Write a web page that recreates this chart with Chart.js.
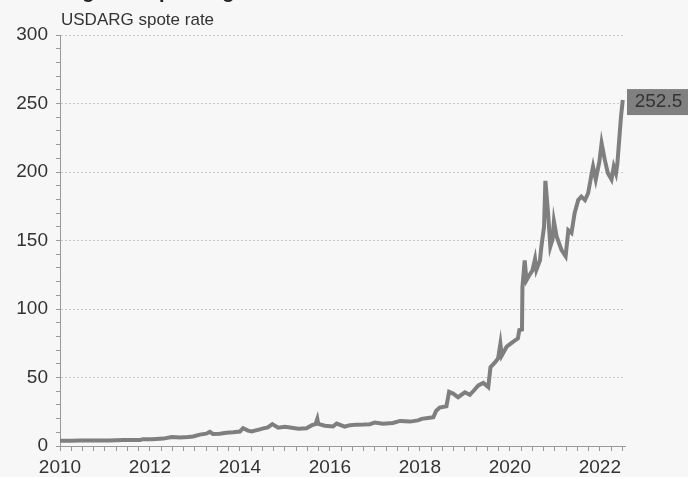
<!DOCTYPE html>
<html>
<head>
<meta charset="utf-8">
<script src="https://cdn.jsdelivr.net/npm/chart.js@4.4.1/dist/chart.umd.min.js"></script>
<style>
  body { margin: 0; background: #f7f7f7; }
  #wrap { position: relative; width: 688px; height: 477px; overflow: hidden; background: #f7f7f7; }
  #title { position: absolute; left: 60px; top: -20px; font: bold 20px "Liberation Sans", Arial, sans-serif; color: #222; white-space: nowrap; }
  #sub { position: absolute; left: 61px; top: 10px; font: 17px "Liberation Sans", Arial, sans-serif; color: #333; }
</style>
</head>
<body>
<div id="wrap">
  <div id="title">Argentine peso against the US dollar</div>
  <div id="sub">USDARG spote rate</div>
  <canvas id="chart" width="688" height="477"></canvas>
</div>
<script>
// decimal years
const dates = [2010.00, 2010.25, 2010.44, 2010.65, 2010.85, 2011.10, 2011.41, 2011.60, 2011.78, 2011.85,
  2012.05, 2012.30, 2012.48, 2012.67, 2012.85, 2012.96, 2013.11, 2013.25, 2013.33, 2013.40,
  2013.55, 2013.70, 2013.85, 2014.00, 2014.07, 2014.18, 2014.26, 2014.40, 2014.52, 2014.62,
  2014.72, 2014.85, 2015.00, 2015.15, 2015.30, 2015.48, 2015.60, 2015.68, 2015.72, 2015.74,
  2015.89, 2016.07, 2016.15, 2016.33, 2016.45, 2016.59, 2016.75, 2016.89, 2017.00, 2017.18,
  2017.40, 2017.56, 2017.78, 2017.96, 2018.04, 2018.22, 2018.30, 2018.36, 2018.44, 2018.59,
  2018.65, 2018.74, 2018.85, 2019.00, 2019.11, 2019.20, 2019.30, 2019.41, 2019.52, 2019.57,
  2019.67, 2019.74, 2019.79, 2019.82, 2019.93, 2020.07, 2020.18, 2020.21, 2020.27, 2020.28,
  2020.33, 2020.37, 2020.44, 2020.50, 2020.56, 2020.59, 2020.67, 2020.70, 2020.76, 2020.79,
  2020.85, 2020.90, 2020.95, 2020.98, 2021.04, 2021.15, 2021.24, 2021.30, 2021.37, 2021.44,
  2021.52, 2021.59, 2021.67, 2021.74, 2021.82, 2021.85, 2021.91, 2021.99, 2022.04, 2022.11,
  2022.18, 2022.26, 2022.31, 2022.36, 2022.39, 2022.43, 2022.47, 2022.51];

const rates = [3.8, 3.9, 4.0, 4.0, 4.05, 4.1, 4.3, 4.3, 4.4, 5.0,
  5.0, 5.4, 6.6, 6.2, 6.5, 6.9, 8.3, 9.0, 10.3, 8.8,
  9.0, 9.6, 10.0, 10.6, 13.0, 11.2, 10.6, 11.8, 12.9, 13.6,
  16.0, 13.3, 14.0, 13.3, 12.6, 13.0, 15.2, 16.0, 19.8, 16.2,
  14.8, 14.2, 16.4, 14.2, 15.2, 15.6, 15.7, 15.9, 17.2, 16.2,
  16.8, 18.3, 17.8, 18.7, 19.8, 20.6, 21.0, 25.6, 28.0, 29.0,
  39.5, 38.3, 35.6, 39.2, 37.4, 40.5, 44.2, 46.0, 43.0, 57.5,
  61.0, 64.0, 74.5, 66.0, 72.5, 76.0, 78.5, 84.5, 85.0, 116,
  135.5, 121, 125, 128, 136.5, 128.5, 135.5, 145, 160, 193.5,
  170, 145.5, 151, 164, 153, 143, 138.5, 157.5, 155.5, 170,
  179.5, 182, 179.5, 184.5, 199, 204, 194.5, 207.5, 221, 209,
  199, 194.5, 204, 199, 206, 223, 240, 252.5];

const xMin = 2010, xMax = 2022.56;
const yMin = 0, yMax = 300;
const lineColor = '#7f7f7f';
const font = '"Liberation Sans", Arial, sans-serif';

// value tag to the right of the last point
const lastTag = {
  id: 'lastTag',
  afterDatasetsDraw(chart) {
    const ctx = chart.ctx;
    const last = rates[rates.length - 1];
    const y = chart.scales.y.getPixelForValue(last);
    const x0 = chart.chartArea.right + 2;
    ctx.save();
    ctx.fillStyle = '#808080';
    ctx.fillRect(x0, y - 11, 688 - x0, 26);
    ctx.fillStyle = '#333';
    ctx.font = '19px ' + font;
    ctx.textAlign = 'center';
    ctx.textBaseline = 'middle';
    ctx.fillText(last.toFixed(1), x0 + (688 - x0) / 2 + 1, y + 2);
    ctx.restore();
  }
};

new Chart(document.getElementById('chart'), {
  type: 'line',
  data: {
    datasets: [{
      data: dates.map((d, i) => ({ x: d, y: rates[i] })),
      borderColor: lineColor,
      borderWidth: 4,
      pointRadius: 0,
      tension: 0
    }]
  },
  options: {
    responsive: false,
    animation: false,
    layout: { padding: { left: 0, right: 63, top: 35, bottom: 0 } },
    plugins: { legend: { display: false }, tooltip: { enabled: false } },
    scales: {
      x: {
        type: 'linear',
        min: xMin, max: xMax,
        afterFit: s => { s.height = 31; },
        grid: { drawOnChartArea: false, drawTicks: true, tickLength: 5, tickColor: '#999' },
        border: { display: true, color: '#999', width: 1 },
        ticks: {
          stepSize: 0.25, autoSkip: false, maxTicksLimit: 200, includeBounds: false,
          maxRotation: 0, padding: 5,
          color: '#333', font: { family: font, size: 19 },
          callback: v => (Math.abs(v - Math.round(v)) < 1e-6 && Math.round(v) % 2 === 0) ? String(Math.round(v)) : ''
        }
      },
      y: {
        min: yMin, max: yMax,
        afterFit: s => { s.width = 60; },
        grid: {
          color: c => (c.tick && c.tick.value % 50 === 0 && c.tick.value > 0) ? '#c9c9c9' : 'transparent',
          tickColor: '#999', tickLength: 4
        },
        border: { display: true, color: '#999', width: 1, dash: [2, 2] },
        ticks: {
          stepSize: 10, autoSkip: false, maxTicksLimit: 100, padding: 8,
          color: '#333', font: { family: font, size: 19 },
          callback: v => v % 50 === 0 ? String(v) : ''
        }
      }
    }
  },
  plugins: [lastTag]
});
</script>
</body>
</html>
